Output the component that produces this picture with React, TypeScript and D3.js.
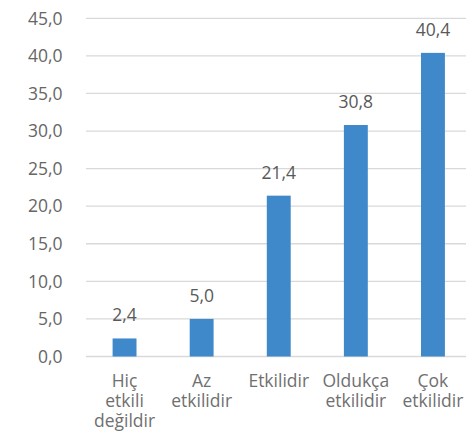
import React from "react";
import * as d3 from "d3";

const categories: string[][] = [
  ["Hiç", "etkili", "değildir"],
  ["Az", "etkilidir"],
  ["Etkilidir"],
  ["Oldukça", "etkilidir"],
  ["Çok", "etkilidir"],
];
const values: number[] = [2.4, 5.0, 21.4, 30.8, 40.4];
const yTicks: number[] = [0, 5, 10, 15, 20, 25, 30, 35, 40, 45];

const W = 466;
const H = 442;
const plotLeft = 86;
const plotRight = 471.5;
const plotTop = 18.3;
const plotBottom = 356.5;

const fmt = (v: number) => v.toFixed(1).replace(".", ",");
const FONT = "'Open Sans', sans-serif";

export default function App() {
  const keys = categories.map((c) => c.join(" "));
  const x = d3.scaleBand<string>().domain(keys).range([plotLeft, plotRight]).padding(0);
  const y = d3.scaleLinear().domain([0, 45]).range([plotBottom, plotTop]);
  const barW = x.bandwidth() * 0.31;

  return (
    <svg
      width={W}
      height={H}
      style={{ position: "absolute", left: 0, top: 0, background: "#fff" }}
    >
      {yTicks.map((t) => (
        <g key={t}>
          <line
            x1={plotLeft}
            x2={W}
            y1={y(t)}
            y2={y(t)}
            stroke="#d9d9d9"
            strokeWidth={1.3}
          />
          <text
            x={62.5}
            y={y(t)}
            dy="0.36em"
            textAnchor="end"
            fontFamily={FONT}
            fontSize={17.5}
            fill="#666"
          >
            {fmt(t)}
          </text>
        </g>
      ))}
      {values.map((v, i) => {
        const cx = (x(keys[i]) as number) + x.bandwidth() / 2;
        return (
          <g key={keys[i]}>
            <rect
              x={cx - barW / 2}
              y={y(v)}
              width={barW}
              height={y(0) - y(v)}
              fill="#3f88c9"
            />
            <text
              x={cx}
              y={y(v) - 17}
              textAnchor="middle"
              fontFamily={FONT}
              fontSize={17.5}
              fill="#595959"
            >
              {fmt(v)}
            </text>
            {categories[i].map((line, j) => (
              <text
                key={j}
                x={cx}
                y={386.5 + j * 20}
                textAnchor="middle"
                fontFamily={FONT}
                fontSize={17.5}
                fill="#707070"
              >
                {line}
              </text>
            ))}
          </g>
        );
      })}
    </svg>
  );
}
